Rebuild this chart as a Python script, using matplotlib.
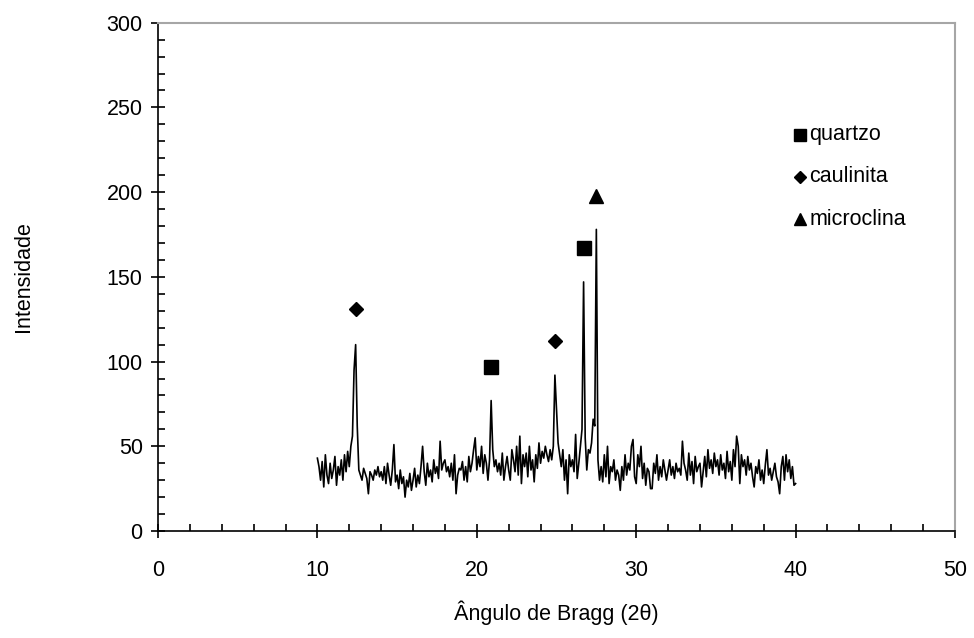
import numpy as np
import matplotlib.pyplot as plt
from matplotlib.ticker import MultipleLocator

plt.rcParams['font.family'] = ['Liberation Sans', 'DejaVu Sans']

# angulo 2theta, passo 0.1 de 10 a 40
angulo = np.round(np.arange(100, 401) / 10.0, 1)
intensidade = [
    43, 38, 30, 41, 26, 45, 33, 28, 40, 31,
    36, 44, 27, 38, 33, 42, 30, 45, 35, 47,
    38, 50, 56, 95, 110, 62, 36, 33, 30, 37,
    34, 31, 22, 35, 33, 30, 36, 33, 38, 32,
    35, 30, 38, 28, 40, 33, 27, 36, 51, 29,
    33, 25, 36, 28, 32, 20, 30, 26, 34, 24,
    30, 37, 26, 33, 28, 38, 50, 35, 27, 40,
    32, 36, 29, 42, 34, 38, 31, 53, 36, 40,
    42, 35, 38, 32, 40, 30, 45, 22, 33, 37,
    36, 41, 30, 38, 29, 44, 35, 40, 48, 55,
    36, 44, 38, 50, 34, 45, 40, 30, 42, 77,
    48, 38, 42, 35, 40, 33, 46, 30, 38, 44,
    36, 30, 48, 42, 35, 50, 33, 56, 28, 45,
    38, 46, 32, 50, 36, 42, 29, 45, 37, 52,
    40, 47, 43, 50, 45, 41, 48, 42, 50, 92,
    72, 52, 45, 38, 48, 30, 42, 22, 45, 38,
    42, 35, 57, 31, 40, 50, 60, 147, 55, 36,
    48, 46, 52, 66, 62, 178, 42, 30, 38, 29,
    45, 32, 50, 28, 38, 35, 42, 30, 36, 33,
    24, 38, 30, 45, 33, 40, 36, 50, 54, 32,
    28, 45, 38, 50, 31, 40, 27, 37, 35, 25,
    25, 40, 34, 45, 30, 38, 32, 42, 36, 30,
    36, 42, 33, 38, 31, 40, 35, 37, 33, 53,
    40, 36, 30, 46, 33, 41, 28, 44, 35, 38,
    40, 26, 35, 44, 32, 48, 37, 42, 34, 46,
    38, 42, 33, 45, 36, 40, 31, 47, 35, 41,
    30, 48, 38, 56, 50, 28, 45, 38, 42, 33,
    44, 36, 40, 32, 26, 38, 34, 42, 30, 36,
    28, 39, 48, 33, 37, 30, 35, 40, 32, 29,
    22, 38, 44, 30, 45, 35, 42, 31, 38, 27,
    28,
]

# marcadores sobre os picos
quartzo_x = [20.9, 26.7]
quartzo_y = [97, 167]
caulinita_x = [12.4, 24.9]
caulinita_y = [131, 112]
microclina_x = [27.5]
microclina_y = [198]

fig = plt.figure(figsize=(9.74, 6.38), dpi=100)
ax = fig.add_axes([0.1622, 0.1677, 0.8183, 0.7967])

ax.plot(angulo, intensidade, color='black', lw=1.2)
ax.plot(quartzo_x, quartzo_y, 's', color='black', ms=10, ls='none')
ax.plot(caulinita_x, caulinita_y, 'D', color='black', ms=7.5, ls='none')
ax.plot(microclina_x, microclina_y, '^', color='black', ms=10, ls='none')

legenda = [('s', 'quartzo', 0.780, 8), ('D', 'caulinita', 0.697, 6), ('^', 'microclina', 0.613, 8.5)]
for mk, nome, yy, ms in legenda:
    ax.plot([0.806], [yy], mk, color='black', ms=ms, transform=ax.transAxes, clip_on=False)
    ax.text(0.817, yy, nome, transform=ax.transAxes, fontsize=15.5, va='center', ha='left')

ax.set_xlim(0, 50)
ax.set_ylim(0, 300)
ax.xaxis.set_major_locator(MultipleLocator(10))
ax.xaxis.set_minor_locator(MultipleLocator(2))
ax.yaxis.set_major_locator(MultipleLocator(50))
ax.yaxis.set_minor_locator(MultipleLocator(10))
ax.tick_params(which='major', direction='inout', length=10, width=1.2, labelsize=15.5, pad=6)
ax.tick_params(which='minor', direction='in', length=5, width=1.2)
ax.tick_params(axis='x', pad=16)

for s in ['left', 'bottom']:
    ax.spines[s].set_color('black')
    ax.spines[s].set_linewidth(1.2)
for s in ['top', 'right']:
    ax.spines[s].set_color('#a6a6a6')
    ax.spines[s].set_linewidth(1.5)

ax.set_xlabel('Ângulo de Bragg (2θ)', fontsize=15.5, labelpad=14)
ax.set_ylabel('Intensidade', fontsize=15.5, labelpad=52)

fig.savefig('out.png', dpi=100)
